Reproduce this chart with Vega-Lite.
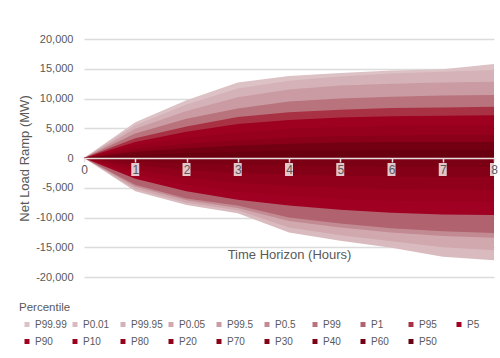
{
"$schema":"https://vega.github.io/schema/vega-lite/v6.json",
"width":410,"height":238,
"autosize":{"type":"none"},
"padding":{"left":84,"top":39,"right":6,"bottom":81},
"background":"white",
"config":{"font":"Liberation Sans","view":{"stroke":null}},
"encoding":{"x":{"field":"h","type":"quantitative","scale":{"domain":[0,8],"nice":false,"zero":false,"padding":0},
"axis":{"title":"Time Horizon (Hours)","orient":"bottom","offset":-119,"values":[0,1,2,3,4,5,6,7,8],"format":"d","grid":false,"domainColor":"#e9dfe0","domainWidth":1.5,"tickColor":"#e9dfe0","tickSize":4,"tickWidth":1.5,"labelFontSize":12,"labelColor":"#595959","labelPadding":2,"labelFlush":false,"labelOverlap":false,"titleFontSize":13,"titleFontWeight":"normal","titleColor":"#595959","titlePadding":73,"zindex":1}}},
"layer":[
{"data":{"values":[
{"p":"P99.99","h":0,"v":0},{"p":"P99.99","h":1,"v":6000},{"p":"P99.99","h":2,"v":9700},{"p":"P99.99","h":3,"v":12700},{"p":"P99.99","h":4,"v":13800},{"p":"P99.99","h":5,"v":14300},{"p":"P99.99","h":6,"v":14700},{"p":"P99.99","h":7,"v":14900},{"p":"P99.99","h":8,"v":15800},
{"p":"P0.01","h":0,"v":0},{"p":"P0.01","h":1,"v":-5600},{"p":"P0.01","h":2,"v":-7900},{"p":"P0.01","h":3,"v":-9300},{"p":"P0.01","h":4,"v":-12500},{"p":"P0.01","h":5,"v":-13900},{"p":"P0.01","h":6,"v":-15100},{"p":"P0.01","h":7,"v":-16600},{"p":"P0.01","h":8,"v":-17200},
{"p":"P99.95","h":0,"v":0},{"p":"P99.95","h":1,"v":5500},{"p":"P99.95","h":2,"v":9000},{"p":"P99.95","h":3,"v":11700},{"p":"P99.95","h":4,"v":13000},{"p":"P99.95","h":5,"v":13700},{"p":"P99.95","h":6,"v":14200},{"p":"P99.95","h":7,"v":14500},{"p":"P99.95","h":8,"v":14800},
{"p":"P0.05","h":0,"v":0},{"p":"P0.05","h":1,"v":-5200},{"p":"P0.05","h":2,"v":-7500},{"p":"P0.05","h":3,"v":-8800},{"p":"P0.05","h":4,"v":-11700},{"p":"P0.05","h":5,"v":-13000},{"p":"P0.05","h":6,"v":-14000},{"p":"P0.05","h":7,"v":-15000},{"p":"P0.05","h":8,"v":-15500},
{"p":"P99.5","h":0,"v":0},{"p":"P99.5","h":1,"v":4900},{"p":"P99.5","h":2,"v":7900},{"p":"P99.5","h":3,"v":10200},{"p":"P99.5","h":4,"v":11500},{"p":"P99.5","h":5,"v":12200},{"p":"P99.5","h":6,"v":12500},{"p":"P99.5","h":7,"v":12700},{"p":"P99.5","h":8,"v":12800},
{"p":"P0.5","h":0,"v":0},{"p":"P0.5","h":1,"v":-4800},{"p":"P0.5","h":2,"v":-7100},{"p":"P0.5","h":3,"v":-8400},{"p":"P0.5","h":4,"v":-10600},{"p":"P0.5","h":5,"v":-11700},{"p":"P0.5","h":6,"v":-12500},{"p":"P0.5","h":7,"v":-13100},{"p":"P0.5","h":8,"v":-13400},
{"p":"P99","h":0,"v":0},{"p":"P99","h":1,"v":4100},{"p":"P99","h":2,"v":6600},{"p":"P99","h":3,"v":8300},{"p":"P99","h":4,"v":9500},{"p":"P99","h":5,"v":10000},{"p":"P99","h":6,"v":10300},{"p":"P99","h":7,"v":10500},{"p":"P99","h":8,"v":10600},
{"p":"P1","h":0,"v":0},{"p":"P1","h":1,"v":-4500},{"p":"P1","h":2,"v":-6800},{"p":"P1","h":3,"v":-8000},{"p":"P1","h":4,"v":-10000},{"p":"P1","h":5,"v":-11000},{"p":"P1","h":6,"v":-11800},{"p":"P1","h":7,"v":-12300},{"p":"P1","h":8,"v":-12600},
{"p":"P95","h":0,"v":0},{"p":"P95","h":1,"v":3300},{"p":"P95","h":2,"v":5300},{"p":"P95","h":3,"v":6900},{"p":"P95","h":4,"v":7700},{"p":"P95","h":5,"v":8100},{"p":"P95","h":6,"v":8400},{"p":"P95","h":7,"v":8500},{"p":"P95","h":8,"v":8600},
{"p":"P5","h":0,"v":0},{"p":"P5","h":1,"v":-3500},{"p":"P5","h":2,"v":-5600},{"p":"P5","h":3,"v":-7000},{"p":"P5","h":4,"v":-8000},{"p":"P5","h":5,"v":-8700},{"p":"P5","h":6,"v":-9200},{"p":"P5","h":7,"v":-9500},{"p":"P5","h":8,"v":-9600},
{"p":"P90","h":0,"v":0},{"p":"P90","h":1,"v":2700},{"p":"P90","h":2,"v":4400},{"p":"P90","h":3,"v":5700},{"p":"P90","h":4,"v":6400},{"p":"P90","h":5,"v":6800},{"p":"P90","h":6,"v":7000},{"p":"P90","h":7,"v":7100},{"p":"P90","h":8,"v":7200},
{"p":"P10","h":0,"v":0},{"p":"P10","h":1,"v":-2800},{"p":"P10","h":2,"v":-4500},{"p":"P10","h":3,"v":-5700},{"p":"P10","h":4,"v":-6400},{"p":"P10","h":5,"v":-6900},{"p":"P10","h":6,"v":-7200},{"p":"P10","h":7,"v":-7300},{"p":"P10","h":8,"v":-7400},
{"p":"P80","h":0,"v":0},{"p":"P80","h":1,"v":2100},{"p":"P80","h":2,"v":3400},{"p":"P80","h":3,"v":4300},{"p":"P80","h":4,"v":4900},{"p":"P80","h":5,"v":5200},{"p":"P80","h":6,"v":5400},{"p":"P80","h":7,"v":5500},{"p":"P80","h":8,"v":5500},
{"p":"P20","h":0,"v":0},{"p":"P20","h":1,"v":-2000},{"p":"P20","h":2,"v":-3300},{"p":"P20","h":3,"v":-4200},{"p":"P20","h":4,"v":-4700},{"p":"P20","h":5,"v":-5000},{"p":"P20","h":6,"v":-5200},{"p":"P20","h":7,"v":-5300},{"p":"P20","h":8,"v":-5400},
{"p":"P70","h":0,"v":0},{"p":"P70","h":1,"v":1500},{"p":"P70","h":2,"v":2400},{"p":"P70","h":3,"v":3000},{"p":"P70","h":4,"v":3400},{"p":"P70","h":5,"v":3700},{"p":"P70","h":6,"v":3800},{"p":"P70","h":7,"v":3900},{"p":"P70","h":8,"v":3900},
{"p":"P30","h":0,"v":0},{"p":"P30","h":1,"v":-1200},{"p":"P30","h":2,"v":-2000},{"p":"P30","h":3,"v":-2500},{"p":"P30","h":4,"v":-2800},{"p":"P30","h":5,"v":-3000},{"p":"P30","h":6,"v":-3100},{"p":"P30","h":7,"v":-3200},{"p":"P30","h":8,"v":-3200},
{"p":"P40","h":0,"v":0},{"p":"P40","h":1,"v":-550},{"p":"P40","h":2,"v":-950},{"p":"P40","h":3,"v":-1100},{"p":"P40","h":4,"v":-1300},{"p":"P40","h":5,"v":-1400},{"p":"P40","h":6,"v":-1500},{"p":"P40","h":7,"v":-1500},{"p":"P40","h":8,"v":-1500},
{"p":"P60","h":0,"v":0},{"p":"P60","h":1,"v":1050},{"p":"P60","h":2,"v":1650},{"p":"P60","h":3,"v":2100},{"p":"P60","h":4,"v":2400},{"p":"P60","h":5,"v":2600},{"p":"P60","h":6,"v":2700},{"p":"P60","h":7,"v":2700},{"p":"P60","h":8,"v":2700},
{"p":"P50","h":0,"v":0},{"p":"P50","h":1,"v":520},{"p":"P50","h":2,"v":820},{"p":"P50","h":3,"v":1000},{"p":"P50","h":4,"v":1200},{"p":"P50","h":5,"v":1300},{"p":"P50","h":6,"v":1350},{"p":"P50","h":7,"v":1350},{"p":"P50","h":8,"v":1350}
]},
"mark":{"type":"area","opacity":1},
"encoding":{
"y":{"field":"v","type":"quantitative","stack":null,"scale":{"domain":[-20000,20000],"nice":false,"padding":0},
"axis":{"title":"Net Load Ramp (MW)","values":[-20000,-15000,-10000,-5000,0,5000,10000,15000,20000],"labelExpr":"replace(format(datum.value, ',d'), '−', '-')","grid":true,"gridColor":"#dcdcdc","gridWidth":1.5,"domain":false,"ticks":false,"tickSize":0,"labelFontSize":11,"labelColor":"#595959","labelPadding":11,"titleFontSize":13,"titleFontWeight":"normal","titleColor":"#595959","titlePadding":4}},
"color":{"field":"p","type":"nominal",
"scale":{"domain":["P99.99","P0.01","P99.95","P0.05","P99.5","P0.5","P99","P1","P95","P5","P90","P10","P80","P20","P70","P30","P40","P60","P50"],
"range":["#dcc2c5","#d9bbbf","#d5b2b7","#d0a8ae","#ca9ba2","#c28a92","#b8737d","#b0626e","#a83244","#a00022","#9e0020","#9a001e","#96001c","#91001a","#8a0018","#840016","#7b0014","#720012","#690010"]},
"legend":{"orient":"none","legendX":-65,"legendY":263,"direction":"horizontal","columns":10,"gridAlign":"all","symbolType":"square","symbolSize":25,"symbolStrokeWidth":0,"symbolOpacity":1,"symbolOffset":3,"labelFontSize":10,"labelColor":"#595959","labelOffset":3,"title":"Percentile","titleFontSize":11.5,"titleFontWeight":"normal","titleColor":"#595959","titlePadding":6,"rowPadding":7,"columnPadding":-3,"padding":0}}
}},
{"data":{"values":[{"h":1},{"h":2},{"h":3},{"h":4},{"h":5},{"h":6},{"h":7},{"h":8}]},
"mark":{"type":"bar","width":8,"color":"white","opacity":0.78},
"encoding":{"y":{"datum":-840,"type":"quantitative","axis":{"title":"Net Load Ramp (MW)","values":[-20000,-15000,-10000,-5000,0,5000,10000,15000,20000],"labelExpr":"replace(format(datum.value, ',d'), '−', '-')","grid":true,"gridColor":"#dcdcdc","gridWidth":1.5,"domain":false,"ticks":false,"tickSize":0,"labelFontSize":11,"labelColor":"#595959","labelPadding":11,"titleFontSize":13,"titleFontWeight":"normal","titleColor":"#595959","titlePadding":4}},"y2":{"datum":-3025}}}
]
}
